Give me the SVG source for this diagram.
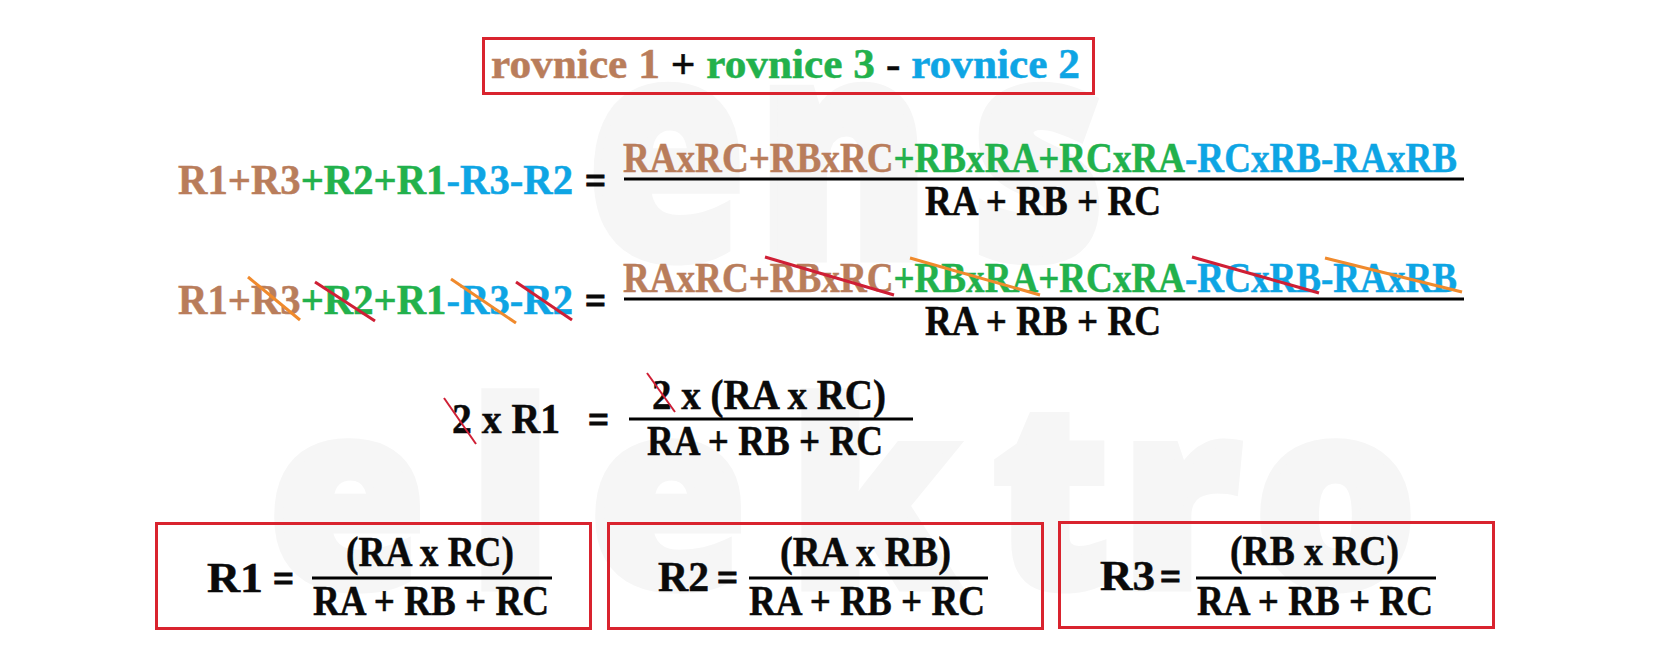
<svg xmlns="http://www.w3.org/2000/svg" width="1672" height="660" viewBox="0 0 1672 660">
<style>
text{font-family:"Liberation Serif","DejaVu Serif",serif;font-weight:700;font-size:42px;fill:#0a0a0a;stroke:currentColor;stroke-width:.5px;color:#0a0a0a}
text.wm{font-family:"Open Sans","DejaVu Sans",sans-serif;font-weight:800;fill:#f6f6f6;stroke:#f6f6f6;stroke-width:9px}
.b{fill:#b97d5b;color:#b97d5b}.g{fill:#22b14c;color:#22b14c}.c{fill:#0ea5e4;color:#0ea5e4}
text.eq{stroke-width:1.2px}
.box{fill:none;stroke:#d9232e;stroke-width:3}
.bar{stroke:#000;stroke-width:3;fill:none}
.r{stroke:#cf1f35;stroke-width:3;fill:none}.o{stroke:#f08a2c;stroke-width:3;fill:none}.t{stroke-width:2}
</style>
<rect width="1672" height="660" fill="#fff"/>
<g id="watermark">
<text class="wm" transform="translate(0 258) scale(.85 1)" x="690 890 1143" y="0" style="font-size:305px">ens</text>
<text class="wm" x="268 469 589 789 992 1121 1254" y="587" style="font-size:256px">elektro</text>
</g>
<g id="title">
<rect class="box" x="483.500" y="38.500" width="610" height="55"/>
<text x="491" y="78" textLength="589" lengthAdjust="spacingAndGlyphs"><tspan class="b">rovnice 1</tspan> + <tspan class="g">rovnice 3</tspan> - <tspan class="c">rovnice 2</tspan></text>
</g>
<g id="row1">
<text x="178" y="194" textLength="395" lengthAdjust="spacingAndGlyphs"><tspan class="b">R1+R3</tspan><tspan class="g">+R2+R1</tspan><tspan class="c">-R3-R2</tspan></text>
<text class="eq" x="585" y="194" textLength="21" lengthAdjust="spacingAndGlyphs">=</text>
<text x="623" y="172" textLength="834" lengthAdjust="spacingAndGlyphs"><tspan class="b">RAxRC+RBxRC</tspan><tspan class="g">+RBxRA+RCxRA</tspan><tspan class="c">-RCxRB-RAxRB</tspan></text>
<line class="bar" x1="624" y1="179" x2="1464" y2="179"/>
<text x="925" y="215" textLength="236" lengthAdjust="spacingAndGlyphs">RA + RB + RC</text>
</g>
<g id="row2">
<text x="178" y="314" textLength="395" lengthAdjust="spacingAndGlyphs"><tspan class="b">R1+R3</tspan><tspan class="g">+R2+R1</tspan><tspan class="c">-R3-R2</tspan></text>
<text class="eq" x="585" y="314" textLength="21" lengthAdjust="spacingAndGlyphs">=</text>
<text x="623" y="292" textLength="834" lengthAdjust="spacingAndGlyphs"><tspan class="b">RAxRC+RBxRC</tspan><tspan class="g">+RBxRA+RCxRA</tspan><tspan class="c">-RCxRB-RAxRB</tspan></text>
<line class="bar" x1="624" y1="299" x2="1464" y2="299"/>
<text x="925" y="335" textLength="236" lengthAdjust="spacingAndGlyphs">RA + RB + RC</text>
</g>
<g id="row3">
<text x="452" y="433" textLength="108" lengthAdjust="spacingAndGlyphs">2 x R1</text>
<text class="eq" x="588" y="433" textLength="21" lengthAdjust="spacingAndGlyphs">=</text>
<text x="652" y="409" textLength="234" lengthAdjust="spacingAndGlyphs">2 x (RA x RC)</text>
<line class="bar" x1="629" y1="419" x2="913" y2="419"/>
<text x="647" y="455" textLength="236" lengthAdjust="spacingAndGlyphs">RA + RB + RC</text>
</g>
<g id="result-r1">
<rect class="box" x="156.500" y="523.500" width="434" height="105"/>
<text x="207" y="592" textLength="56" lengthAdjust="spacingAndGlyphs">R1</text>
<text class="eq" x="273" y="592" textLength="21" lengthAdjust="spacingAndGlyphs">=</text>
<text x="346" y="566" textLength="168" lengthAdjust="spacingAndGlyphs">(RA x RC)</text>
<line class="bar" x1="312" y1="578" x2="552" y2="578"/>
<text x="313" y="615" textLength="236" lengthAdjust="spacingAndGlyphs">RA + RB + RC</text>
</g>
<g id="result-r2">
<rect class="box" x="608.500" y="523.500" width="434" height="105"/>
<text x="658" y="591" textLength="51" lengthAdjust="spacingAndGlyphs">R2</text>
<text class="eq" x="717" y="591" textLength="21" lengthAdjust="spacingAndGlyphs">=</text>
<text x="780" y="566" textLength="171" lengthAdjust="spacingAndGlyphs">(RA x RB)</text>
<line class="bar" x1="749" y1="578" x2="988" y2="578"/>
<text x="749" y="615" textLength="236" lengthAdjust="spacingAndGlyphs">RA + RB + RC</text>
</g>
<g id="result-r3">
<rect class="box" x="1059.500" y="522.500" width="434" height="105"/>
<text x="1100" y="590" textLength="55" lengthAdjust="spacingAndGlyphs">R3</text>
<text class="eq" x="1160" y="590" textLength="21" lengthAdjust="spacingAndGlyphs">=</text>
<text x="1230" y="565" textLength="169" lengthAdjust="spacingAndGlyphs">(RB x RC)</text>
<line class="bar" x1="1196" y1="578" x2="1436" y2="578"/>
<text x="1197" y="615" textLength="236" lengthAdjust="spacingAndGlyphs">RA + RB + RC</text>
</g>
<g id="connectors">
<line class="o" x1="248" y1="277" x2="300" y2="320"/>
<line class="r" x1="315" y1="282" x2="375" y2="321"/>
<line class="o" x1="451" y1="279" x2="516" y2="323"/>
<line class="r" x1="516" y1="282" x2="572" y2="320"/>
<line class="r" x1="765" y1="257" x2="894" y2="295"/>
<line class="o" x1="910" y1="258" x2="1040" y2="295"/>
<line class="r" x1="1192" y1="257" x2="1319" y2="293"/>
<line class="o" x1="1325" y1="258" x2="1462" y2="292"/>
<line class="r t" x1="444" y1="398" x2="476" y2="444"/>
<line class="r t" x1="647" y1="373" x2="675" y2="412"/>
</g>
</svg>
